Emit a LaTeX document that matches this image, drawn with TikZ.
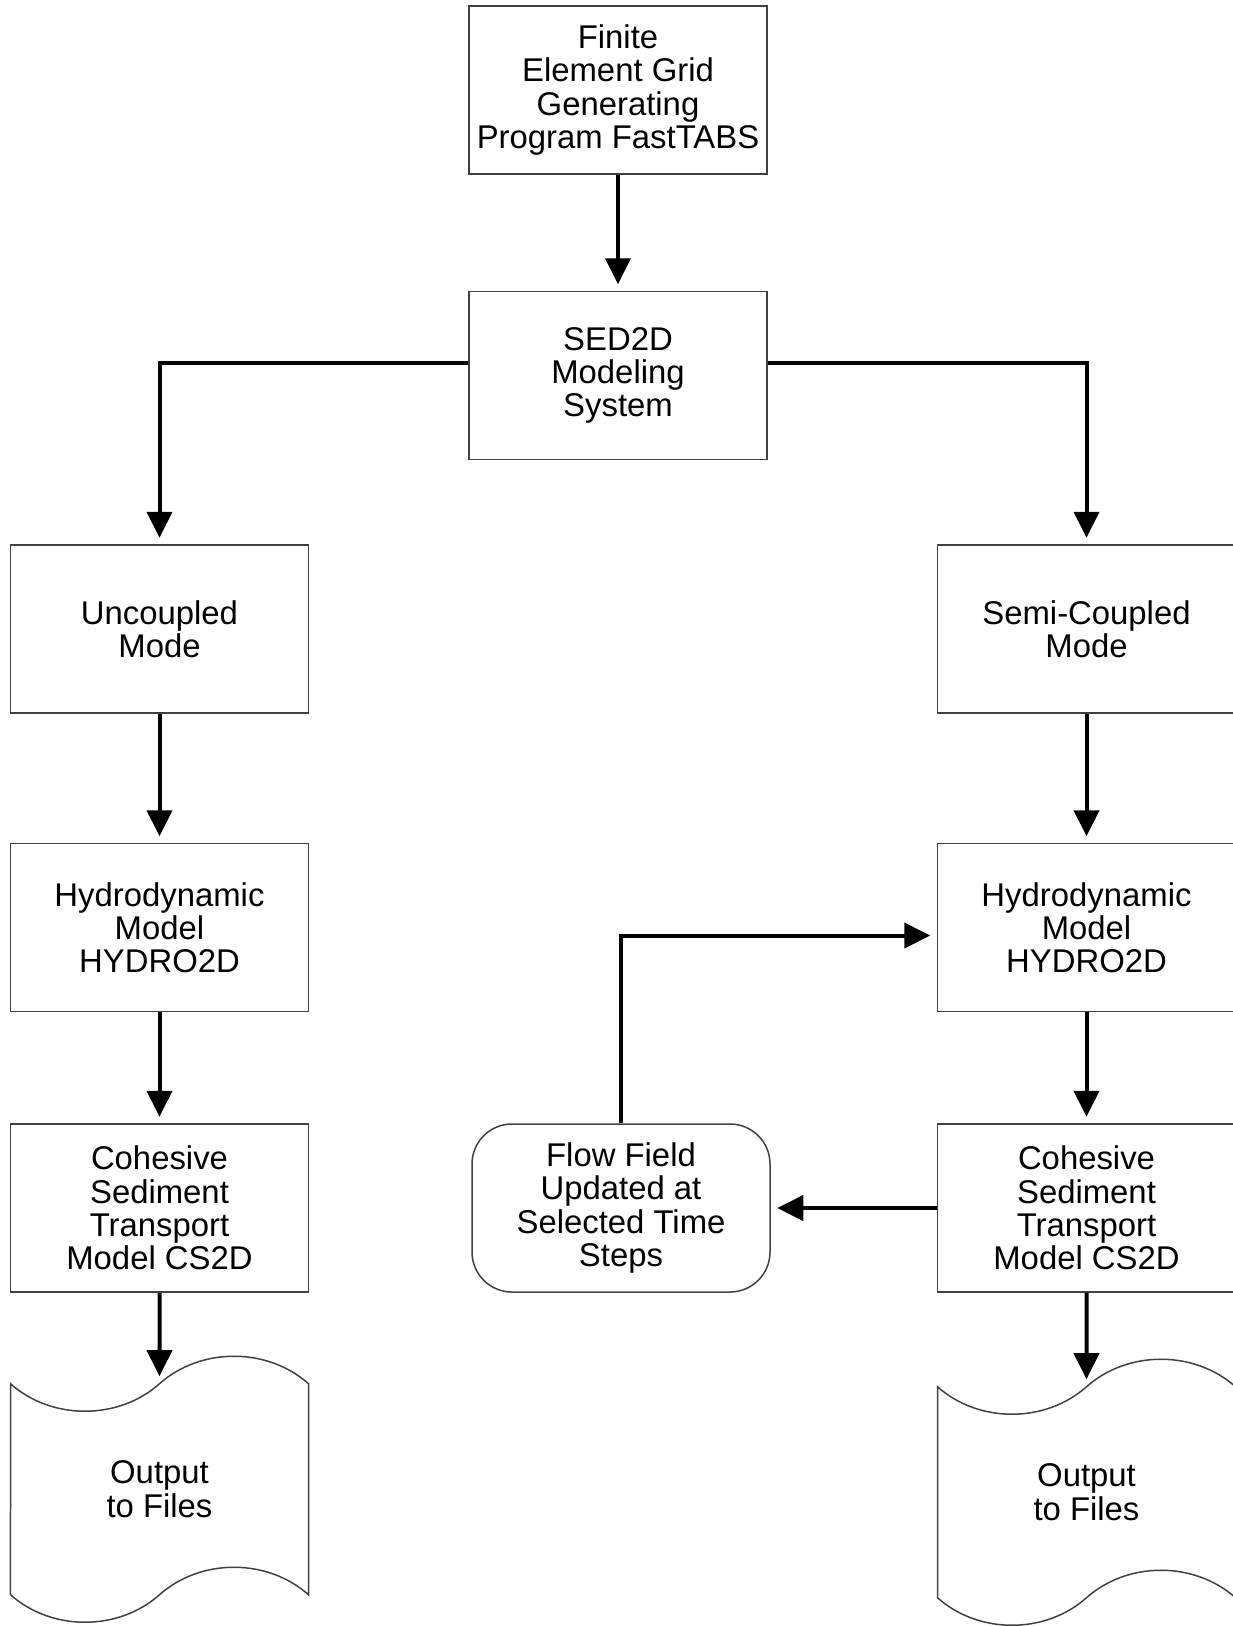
\documentclass[tikz,border=0pt]{standalone}
\usepackage{fontspec}
\setmainfont{Liberation Sans}
\usetikzlibrary{positioning}
\usetikzlibrary{shapes.symbols}
\usetikzlibrary{arrows.meta}

\begin{document}
\begin{tikzpicture}[
    every node/.style={font=\fontsize{18.7}{18.9}\selectfont},
    procbox/.style={rectangle, draw=black!75, line width=0.3mm, align=center, inner sep=0pt, minimum width=59.6mm, minimum height=33.6mm},
    flowbox/.style={procbox, rounded corners=8mm},
    filebox/.style={tape, draw=black!75, line width=0.3mm, align=center, inner sep=0pt, minimum width=59.6mm, minimum height=53.2mm, tape bend height=11mm},
    line/.style={-{Triangle[length=5.2mm, width=5mm]}, line width=0.8mm, shorten >=1.3mm}
]

\useasboundingbox (0,0) rectangle (246.6mm,-325.2mm);

% Grid generator and modeling system
\node[procbox] (grid) at (123.6mm,-18mm) {Finite\\Element Grid\\Generating\\Program FastTABS};
\node[procbox, below=23.2mm of grid] (sedsys) {SED2D\\Modeling\\System};

% Uncoupled branch
\node[procbox, below left=16.8mm and 31.8mm of sedsys] (uncoup) {Uncoupled\\Mode};
\node[procbox, below=25.8mm of uncoup] (hydroL) {Hydrodynamic\\Model\\HYDRO2D};
\node[procbox, below=22.2mm of hydroL] (cohL) {Cohesive\\Sediment\\Transport\\Model CS2D};
\node[filebox, below=18mm of cohL] (outL) {Output\\to Files};

% Semi-coupled branch
\node[procbox, below right=16.8mm and 33.8mm of sedsys] (semicoup) {Semi-Coupled\\Mode};
\node[procbox, below=25.8mm of semicoup] (hydroR) {Hydrodynamic\\Model\\HYDRO2D};
\node[procbox, below=22.2mm of hydroR] (cohR) {Cohesive\\Sediment\\Transport\\Model CS2D};
\node[filebox, below=18.6mm of cohR] (outR) {Output\\to Files};
\node[flowbox, left=33.2mm of cohR] (flowupd) {Flow Field\\Updated at\\Selected Time\\Steps};

% Connectors
\draw[line] (grid) -- (sedsys);
\draw[line] ([yshift=2.6mm]sedsys.west) -| (uncoup);
\draw[line] ([yshift=2.6mm]sedsys.east) -| (semicoup);

\draw[line] (uncoup) -- (hydroL);
\draw[line] (hydroL) -- (cohL);
\draw[line] (cohL) -- (outL);

\draw[line] (semicoup) -- (hydroR);
\draw[line] (hydroR) -- (cohR);
\draw[line] (cohR) -- (outR);

% Feedback loop
\draw[line] (cohR) -- (flowupd);
\draw[line] (flowupd) |- ([yshift=-1.6mm]hydroR.west);

\end{tikzpicture}
\end{document}
